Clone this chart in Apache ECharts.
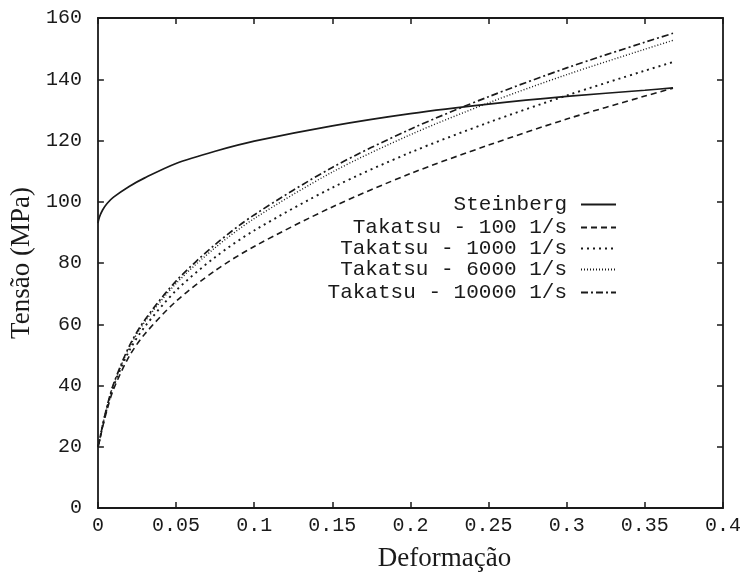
<!DOCTYPE html>
<html>
<head>
<meta charset="utf-8">
<title>Tensão x Deformação</title>
<script src="https://cdn.jsdelivr.net/npm/echarts@6/dist/echarts.min.js"></script>
<style>
  html, body { margin: 0; padding: 0; background: #fff; }
  #main { width: 745px; height: 577px; }
</style>
</head>
<body>
<div id="main"></div>
<script>
// deformação (eixo x)
var strain = [0, 0.001, 0.003, 0.006, 0.01, 0.02, 0.03, 0.05, 0.075, 0.1, 0.15, 0.2, 0.25, 0.3, 0.35, 0.368]

// tensão (MPa)
var steinberg    = [93, 95, 97.3, 99.5, 101.5, 105, 107.8, 112.5, 116.5, 119.8, 124.8, 128.8, 131.9, 134.4, 136.4, 137.2]
var takatsu100   = [20, 21.8, 26.4, 32.3, 38.8, 49.5, 56.8, 67.5, 77.5, 85.4, 98.3, 109.2, 118.5, 127, 134.5, 137.1]
var takatsu1000  = [20, 22, 26.8, 33, 39.8, 51.3, 59.2, 71, 81.9, 90.6, 104.6, 116.1, 125.9, 134.7, 142.8, 145.6]
var takatsu6000  = [20, 22, 27, 33.5, 40.3, 52.3, 60.8, 73.3, 85, 94.5, 109.7, 121.9, 132.3, 141.5, 149.8, 152.7]
var takatsu10000 = [20, 22, 27, 33.5, 40.5, 52.8, 61.4, 74.1, 86, 95.7, 111.2, 123.7, 134.3, 143.7, 152.1, 155]

var names = ['Steinberg', 'Takatsu - 100 1/s', 'Takatsu - 1000 1/s', 'Takatsu - 6000 1/s', 'Takatsu - 10000 1/s']
var values = [steinberg, takatsu100, takatsu1000, takatsu6000, takatsu10000]
var dashes = ['solid', [6, 4], [2, 4], [1, 2], [7, 3, 2, 3]]
var widths = [1.7, 1.6, 1.9, 1.4, 1.7]

var ink = '#1a1a1a'
var mono = '"Liberation Mono", "DejaVu Sans Mono", monospace'
var serif = '"Liberation Serif", "DejaVu Serif", serif'

function pairs(ys) {
  return strain.map(function (x, i) { return [x, ys[i]] })
}

var series = names.map(function (n, i) {
  return {
    name: n,
    type: 'line',
    symbol: 'none',
    smooth: 0.3,
    data: pairs(values[i]),
    lineStyle: { color: ink, width: widths[i], type: dashes[i] },
    itemStyle: { color: ink }
  }
})

// uma legenda por linha, para alinhar o texto à direita
var legendTops = [189, 212, 233, 254, 277]
var legends = names.map(function (n, i) {
  return {
    data: [n],
    right: 123,
    top: legendTops[i],
    align: 'right',
    itemWidth: 35,
    itemHeight: 12,
    selectedMode: false,
    itemStyle: { color: 'transparent', borderColor: 'transparent', borderWidth: 0 },
    textStyle: { fontFamily: mono, fontSize: 21, color: ink, padding: [0, 9, 0, 0] }
  }
})

function axisLine() {
  return { onZero: false, lineStyle: { color: ink, width: 1.8 } }
}
function tick() {
  return { inside: true, length: 6, lineStyle: { color: ink, width: 1.5 } }
}

var option = {
  animation: false,
  backgroundColor: '#fff',
  grid: { left: 97, right: 22, top: 18, bottom: 66 },
  legend: legends,
  xAxis: [
    {
      type: 'value', min: 0, max: 0.4, interval: 0.05,
      name: 'Deformação', nameLocation: 'middle', nameGap: 37,
      nameTextStyle: { fontFamily: serif, fontSize: 27, color: ink, padding: [0, 0, 0, 68] },
      axisLine: axisLine(), axisTick: tick(), splitLine: { show: false },
      axisLabel: { fontFamily: mono, fontSize: 20, color: ink, margin: 8 }
    },
    {
      type: 'value', position: 'top', min: 0, max: 0.4, interval: 0.05,
      axisLine: axisLine(), axisTick: tick(), splitLine: { show: false },
      axisLabel: { show: false }
    }
  ],
  yAxis: [
    {
      type: 'value', min: 0, max: 160, interval: 20,
      name: 'Tensão (MPa)', nameLocation: 'middle', nameGap: 55,
      nameTextStyle: { fontFamily: serif, fontSize: 27, color: ink },
      axisLine: axisLine(), axisTick: tick(), splitLine: { show: false },
      axisLabel: { fontFamily: mono, fontSize: 20, color: ink, margin: 16 }
    },
    {
      type: 'value', position: 'right', min: 0, max: 160, interval: 20,
      axisLine: axisLine(), axisTick: tick(), splitLine: { show: false },
      axisLabel: { show: false }
    }
  ],
  series: series
}

var chart = echarts.init(document.getElementById('main'))
chart.setOption(option)
</script>
</body>
</html>
